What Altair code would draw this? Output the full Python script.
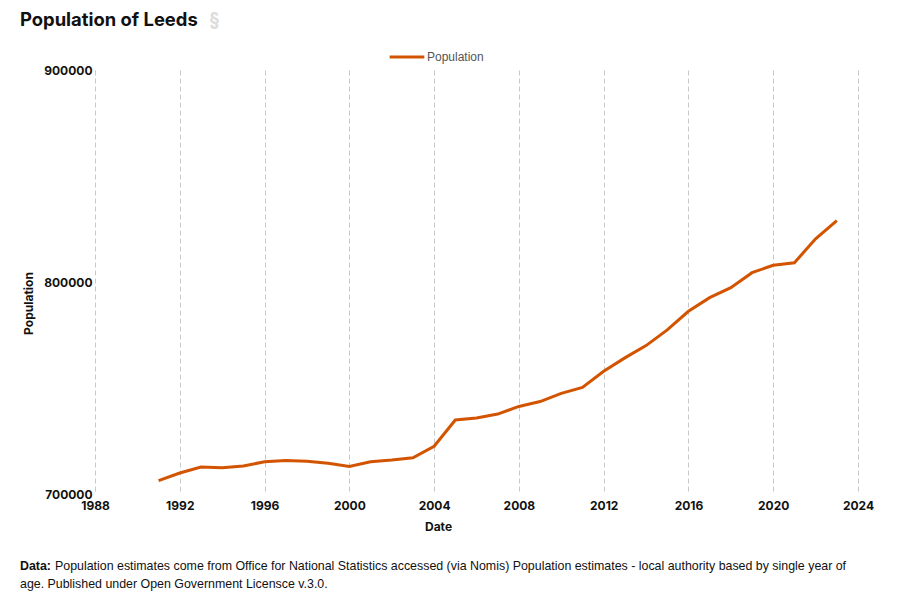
import altair as alt
import pandas as pd

years = list(range(1991, 2024))
population = [706300, 709900, 712700, 712400, 713200, 715200, 715800, 715500,
              714500, 713000, 715200, 716000, 717100, 722500, 734900, 735900,
              737700, 741300, 743600, 747500, 750300, 757900, 764200, 770000,
              777400, 786200, 792600, 797300, 804400, 807900, 809100, 820400,
              828900]
x_ticks = list(range(1988, 2025, 4))
y_ticks = [700000, 800000, 900000]

df = pd.DataFrame({"Date": years, "Population": population, "series": "Population"})

ORANGE = "#D35400"
BOLD_FONT = "Inter"
SANS = "Liberation Sans"

line = alt.Chart(df).mark_line(strokeWidth=3, color=ORANGE).encode(
    x=alt.X("Date:Q",
            scale=alt.Scale(domain=[1988, 2024], nice=False, zero=False),
            axis=alt.Axis(values=x_ticks, format="d", title="Date",
                          grid=True, gridDash=[5, 3], gridColor="#c8c8c8",
                          domain=False, ticks=False, labelPadding=6,
                          labelFlush=False, labelOverlap=False,
                          labelFont=BOLD_FONT, labelFontWeight="bold",
                          labelFontSize=12, labelColor="#111",
                          titleFont=BOLD_FONT, titleFontWeight="bold",
                          titleFontSize=12, titleColor="#111",
                          titleX=343, titleY=27)),
    y=alt.Y("Population:Q",
            scale=alt.Scale(domain=[700000, 900000], nice=False, zero=False),
            axis=alt.Axis(values=y_ticks, format="d", title="Population",
                          grid=False, domain=False, ticks=False, labelPadding=3,
                          labelFlush=False, labelOverlap=False,
                          labelFont=BOLD_FONT, labelFontWeight="bold",
                          labelFontSize=12, labelColor="#111",
                          titleFont=BOLD_FONT, titleFontWeight="bold",
                          titleFontSize=12, titleColor="#111",
                          titleX=-60, titleY=233)),
    color=alt.Color("series:N",
                    scale=alt.Scale(domain=["Population"], range=[ORANGE]),
                    legend=alt.Legend(title=None, orient="none",
                                      legendX=293, legendY=-32,
                                      symbolType="stroke", symbolSize=1200,
                                      symbolStrokeWidth=3, labelFont=SANS,
                                      labelFontSize=12, labelColor="#555",
                                      labelOffset=1)),
)

def text_layer(txt, x, y, size, weight="normal", color="#111", font=SANS):
    return alt.Chart(pd.DataFrame({"t": [txt]})).mark_text(
        align="left", baseline="alphabetic", fontSize=size, fontWeight=weight,
        color=color, font=font
    ).encode(x=alt.value(x), y=alt.value(y), text="t:N")

title = text_layer("Population of Leeds", -75, -44, 18.4, "bold", "#111", BOLD_FONT)
sect = text_layer("§", 114, -44, 18.4, "bold", "#dddddd", BOLD_FONT)
f1 = text_layer("Data:", -75, 500, 12.4, "bold", "#111")
f2 = text_layer("Population estimates come from Office for National Statistics accessed (via Nomis) "
                "Population estimates - local authority based by single year of",
                -40, 500, 12.4, "normal", "#111")
f3 = text_layer("age. Published under Open Government Licensce v.3.0.", -75, 518, 12.4, "normal", "#111")

chart = alt.layer(line, title, sect, f1, f2, f3).properties(
    width=763, height=424,
    autosize=alt.AutoSizeParams(type="none"),
    padding={"left": 87, "top": 62, "right": 38, "bottom": 105},
).configure_view(stroke=None)

chart.save("out.html", embed_options={"renderer": "svg", "actions": False})
